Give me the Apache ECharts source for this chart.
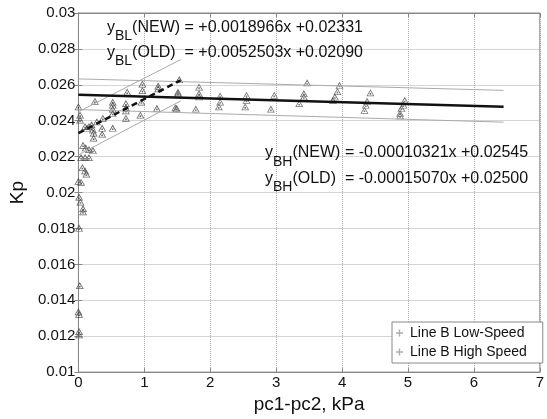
<!DOCTYPE html>
<html><head><meta charset="utf-8">
<script src="https://cdn.jsdelivr.net/npm/echarts@6/dist/echarts.min.js"></script>
<style>html,body{margin:0;padding:0;background:#fff}#c{width:547px;height:419px}</style>
</head><body><div id="c"></div>
<script>
const FF = "'Liberation Sans', Arial, sans-serif";

const seriesNames = ['Line B Low-Speed', 'Line B High Speed'];
const xTickLabels = ['0','1','2','3','4','5','6','7'];
const yTickLabels = ['0.01','0.012','0.014','0.016','0.018','0.02','0.022','0.024','0.026','0.028','0.03'];

const lowSpeed = [
  [0,0.02478],[0.025,0.02432],[0.025,0.02404],[0.25,0.02509],[0.2,0.02377],[0.16,0.02368],
  [0.22,0.0235],[0.23,0.02332],[0.23,0.02304],[0.37,0.02414],[0.36,0.02359],[0.36,0.02326],
  [0.52,0.02359],[0.52,0.02505],[0.52,0.02487],[0.52,0.02465],[0.52,0.02441],[0.72,0.02496],
  [0.72,0.02472],[0.72,0.02456],[0.72,0.02414],[0.74,0.0256],[0.94,0.02432],[0.955,0.02505],
  [0.97,0.02569],[0.97,0.02605],[1.19,0.02469],[1.21,0.02593],[1.21,0.02578],[1.49,0.02469],
  [1.51,0.02551],[1.53,0.02629],[0.13,0.02359],[0.1,0.02368],[0.28,0.02395],
  [0.07,0.02264],[0.11,0.02249],[0.16,0.0224],[0.22,0.02235],[0.04,0.02195],[0.1,0.02195],
  [0.16,0.02195],[0.06,0.0214],[0.1,0.02122],[0.12,0.02103],[0,0.02063],[0.04,0.02058],
  [0.01,0.01975],[0.03,0.01948],[0.07,0.01911],[0.07,0.01893],[0.01,0.01802],[0.02,0.01482],
  [0,0.01336],[0.01,0.01322],[0.01,0.01226],[0.01,0.01208]
];
const highSpeed = [
  [1.83,0.02588],[1.83,0.02551],[1.83,0.02533],[1.78,0.02465],[2.15,0.02538],[2.15,0.02505],
  [2.13,0.02478],[2.55,0.02542],[2.55,0.02514],[2.53,0.02478],[2.97,0.02542],[2.92,0.02465],
  [3.47,0.02611],[3.42,0.02551],[3.42,0.02533],[3.35,0.02496],[3.96,0.02597],[3.93,0.02563],
  [3.89,0.02533],[3.86,0.02514],[4.43,0.02556],[4.38,0.02508],[4.36,0.02487],[4.34,0.02459],
  [4.95,0.02514],[4.93,0.02487],[4.9,0.02469],[4.88,0.02441],[4.88,0.02428],[1.47,0.02472],[1.51,0.0256]
];

// fitted lines and bands (end points)
const bhNewFit = [[0,0.02545],[6.45,0.02478]];
const bhUpper = [[0,0.02633],[6.45,0.02569]];
const bhLower = [[0,0.02462],[6.45,0.02392]];
const blNewFit = [[0,0.02331],[1.55,0.02625]];
const blUpper = [[0,0.0245],[1.55,0.0274]];
const blLower = [[0,0.0221],[1.55,0.0251]];

const tri = 'path://M5,0L10,9L0,9Z M5,2.4L1.6,8.1L8.4,8.1Z M4,5L6,5L6,7L4,7Z';
const plus = 'path://M3.2,0L4.8,0L4.8,3.2L8,3.2L8,4.8L4.8,4.8L4.8,8L3.2,8L3.2,4.8L0,4.8L0,3.2L3.2,3.2Z';

function eq(x, y, sub, rest) {
  const m = {fontSize:16, lineHeight:16, verticalAlign:'top', fontFamily:FF, fill:'#111'};
  const s = {fontSize:14, lineHeight:14, verticalAlign:'top', padding:[10,0,0,0], fontFamily:FF, fill:'#111'};
  return {type:'text', left:x, top:y, z:50,
    style:{text:'{m|y}{s|'+sub+'}{m|'+rest+'}', rich:{m:m, s:s}}};
}

function line(data, color, width, type, z) {
  return {type:'line', data:data, showSymbol:false, silent:true, z:z,
    lineStyle:{color:color, width:width, type:type}, animation:false};
}

const chart = echarts.init(document.getElementById('c'), null, {renderer:'canvas'});
const axisCommon = {
  axisLine:{show:true, lineStyle:{color:'#888', width:1}},
  axisTick:{show:true, inside:true, length:4, lineStyle:{color:'#888'}},
};
chart.setOption({
  animation:false,
  backgroundColor:'#fff',
  grid:{left:75, right:1, top:13, bottom:41, show:true, borderColor:'#888', borderWidth:1, containLabel:false},
  xAxis:[{
    type:'value', min:0, max:7, interval:1,
    name:'pc1-pc2, kPa', nameLocation:'middle', nameGap:14,
    nameTextStyle:{fontSize:19, fontFamily:FF, color:'#111'},
    ...axisCommon,
    axisLabel:{fontSize:15, fontFamily:FF, color:'#111', margin:3, formatter:(v,i)=>xTickLabels[i]},
    splitLine:{show:true, lineStyle:{color:'#aaa', type:'dotted', width:1}}
  },{
    type:'value', min:0, max:7, interval:1, position:'top', ...axisCommon,
    axisLabel:{show:false}, splitLine:{show:false}
  }],
  yAxis:[{
    type:'value', min:0.01, max:0.03, interval:0.002,
    name:'Kp', nameLocation:'middle', nameGap:29,
    nameTextStyle:{fontSize:19, fontFamily:FF, color:'#111'},
    ...axisCommon,
    axisLabel:{fontSize:15, fontFamily:FF, color:'#111', margin:3, formatter:(v,i)=>yTickLabels[i]},
    splitLine:{show:true, lineStyle:{color:'#aaa', type:'dotted', width:1}}
  },{
    type:'value', min:0.01, max:0.03, interval:0.002, position:'right', ...axisCommon,
    axisLabel:{show:false}, splitLine:{show:false}
  }],
  legend:{
    data:[{name:seriesNames[0], icon:plus, itemStyle:{color:'#999'}},
          {name:seriesNames[1], icon:plus, itemStyle:{color:'#999'}}],
    orient:'vertical', left:392, top:322,
    padding:[3,16,3,4], itemGap:3, itemWidth:7, itemHeight:7,
    backgroundColor:'#fff', borderColor:'#888', borderWidth:1, borderRadius:0,
    textStyle:{fontSize:14, fontFamily:FF, color:'#111', lineHeight:16, padding:[0,0,0,2]}
  },
  graphic:[
    eq(107, 19.5, 'BL', '(NEW) = +0.0018966x +0.02331'),
    eq(107, 44.5, 'BL', '(OLD)  = +0.0052503x +0.02090'),
    eq(265, 145, 'BH', '(NEW) = -0.00010321x +0.02545'),
    eq(265, 170.5, 'BH', '(OLD)  = -0.00015070x +0.02500')
  ],
  series:[
    {name:seriesNames[0], type:'scatter', data:lowSpeed, symbol:tri, symbolSize:[8,7],
      itemStyle:{color:'#444'}, z:3},
    {name:seriesNames[1], type:'scatter', data:highSpeed, symbol:tri, symbolSize:[8,7],
      itemStyle:{color:'#555'}, z:3},
    line(bhUpper, '#aaa', 1, 'solid', 4),
    line(bhLower, '#aaa', 1, 'solid', 4),
    line(blUpper, '#aaa', 1, 'solid', 4),
    line(blLower, '#aaa', 1, 'solid', 4),
    line(bhNewFit, '#111', 2.5, 'solid', 5),
    line(blNewFit, '#111', 2.5, [6,4], 5)
  ]
});
</script></body></html>
